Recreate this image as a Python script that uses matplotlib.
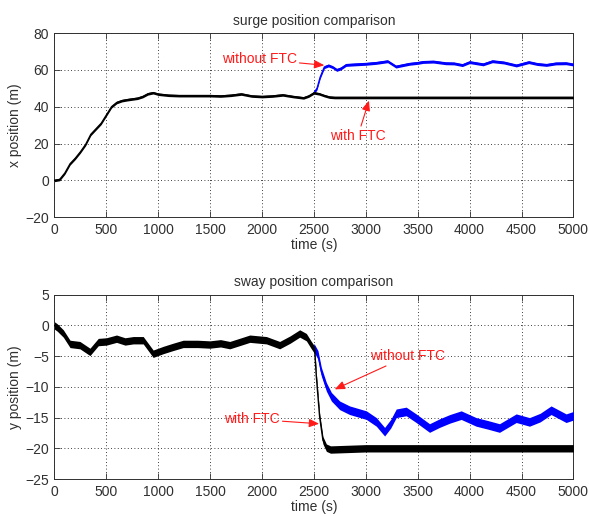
import matplotlib
matplotlib.use("Agg")
import matplotlib.pyplot as plt
import numpy as np

plt.rcParams['font.family'] = ['Liberation Sans', 'DejaVu Sans']

# ---- surge (x position) ----
surge_ftc_t = [0, 50, 100, 150, 200, 250, 300, 350, 400, 450, 500, 550, 600, 650, 700,
               800, 850, 900, 950, 1000, 1100, 1200, 1300, 1400, 1500, 1600, 1700, 1800,
               1900, 2000, 2100, 2200, 2300, 2400, 2450, 2500, 2550, 2600, 2650, 2700,
               3000, 3500, 4000, 4500, 5000]
surge_ftc = [0, 0.5, 4, 9, 12, 15.5, 19.5, 25, 28, 31, 35.5, 40, 42.3, 43.3, 43.8,
             44.6, 45.5, 47, 47.6, 46.8, 46.2, 46, 46, 46, 46, 45.8, 46.2, 46.9,
             45.8, 45.5, 45.8, 46.4, 45.5, 44.8, 45.8, 47.5, 47, 46, 45.2, 45,
             45, 45, 45, 45, 45]
surge_noftc_t = [2500, 2530, 2560, 2600, 2640, 2680, 2720, 2760, 2810, 2900, 3000, 3100,
                 3210, 3290, 3350, 3420, 3500, 3550, 3650, 3770, 3850, 3930, 4000, 4130,
                 4220, 4330, 4450, 4570, 4650, 4740, 4830, 4930, 5000]
surge_noftc = [47.5, 50, 56, 61.5, 62.4, 61.5, 60, 60.8, 62.7, 63, 63.3, 63.8,
               64.7, 61.8, 62.5, 63.3, 63.8, 64.3, 64.5, 63.6, 63.5, 62.6, 64.2, 63,
               64.7, 64, 62.4, 64.2, 63.2, 62.7, 63.5, 63.6, 62.9]
surge_ftc_noise = 0.7
surge_noftc_noise = 0.8

# ---- sway (y position) ----
sway_ftc_t = [0, 25, 85, 150, 245, 342, 422, 500, 598, 680, 759, 855, 951, 1047, 1140, 1240,
              1380, 1497, 1600, 1689, 1800, 1882, 2042, 2170, 2270, 2363, 2427, 2475, 2507,
              2523, 2555, 2587, 2620, 2660, 3000, 3500, 4000, 4500, 5000]
sway_ftc = [0, -0.3, -1.3, -3.0, -3.2, -4.3, -2.7, -2.6, -2.15, -2.6, -2.4, -2.4, -4.6, -4.0, -3.5,
            -3.0, -3.0, -3.1, -2.9, -3.2, -2.6, -2.15, -2.4, -3.2, -2.3, -1.3, -1.9, -3.2, -4.0,
            -8.3, -14.9, -18.7, -19.9, -20.2, -20, -20, -20, -20, -20]
sway_noftc_t = [2500, 2539, 2571, 2620, 2668, 2748, 2844, 3005, 3101, 3181, 3240, 3293, 3389,
                3485, 3614, 3710, 3810, 3919, 4063, 4180, 4288, 4449, 4577, 4680, 4785, 4930, 5000]
sway_noftc = [-3.6, -4.8, -7.5, -10, -11.6, -13, -13.8, -14.6, -15.7, -17.3, -16, -14.3, -14.0,
              -15.1, -16.7, -15.9, -15.2, -14.6, -15.7, -16.2, -16.7, -15.1, -15.7, -15, -13.8, -15.1, -14.7]
sway_ftc_noise = 0.6
sway_noftc_noise = 0.7

xticks = [0, 500, 1000, 1500, 2000, 2500, 3000, 3500, 4000, 4500, 5000]
surge_yticks = [-20, 0, 20, 40, 60, 80]
sway_yticks = [-25, -20, -15, -10, -5, 0, 5]

fig = plt.figure(figsize=(5.89, 5.16), dpi=100)
ax1 = fig.add_axes([0.0925, 0.579, 0.881, 0.357])
ax2 = fig.add_axes([0.0925, 0.0717, 0.881, 0.357])

RED = '#ff1a1a'
AXC = '#303030'

def band(ax, t, v, amp, color, lw=1.0):
    t = np.asarray(t, float)
    v = np.asarray(v, float)
    ax.fill_between(t, v - amp, v + amp, color=color, lw=0, zorder=3)
    ax.plot(t, v, color=color, lw=lw, zorder=3)

def style(ax, yticks, title, ylabel):
    ax.set_xlim(0, 5000)
    ax.set_ylim(yticks[0], yticks[-1])
    ax.set_xticks(xticks)
    ax.set_yticks(yticks)
    ax.grid(True, color='k', linestyle=(0, (1, 3)), linewidth=0.6)
    ax.tick_params(direction='in', top=True, right=True, length=4, width=0.6,
                   labelsize=10, pad=4, colors=AXC)
    for s in ax.spines.values():
        s.set_linewidth(0.7)
        s.set_color(AXC)
    ax.set_title(title, fontsize=10, pad=6, color=AXC)
    ax.set_xlabel('time (s)', fontsize=10, labelpad=1, color=AXC)
    ax.set_ylabel(ylabel, fontsize=10, labelpad=2, color=AXC)

band(ax1, surge_noftc_t, surge_noftc, surge_noftc_noise, '#0000ff')
band(ax1, surge_ftc_t, surge_ftc, surge_ftc_noise, 'k')
style(ax1, surge_yticks, 'surge position comparison', 'x position (m)')

band(ax2, sway_noftc_t, sway_noftc, sway_noftc_noise, '#0000ff')
band(ax2, sway_ftc_t, sway_ftc, sway_ftc_noise, 'k')
style(ax2, sway_yticks, 'sway position comparison', 'y position (m)')

arrow = dict(arrowstyle='-|>,head_length=0.6,head_width=0.25', color=RED, lw=0.8,
             shrinkA=0, shrinkB=0)
ax1.annotate('without FTC', xy=(2600, 62.5), xytext=(2334, 65.8), color=RED, fontsize=10,
             ha='right', va='center', arrowprops=arrow, zorder=5)
ax1.annotate('with FTC', xy=(3030, 43.3), xytext=(2924, 28.0), color=RED, fontsize=10,
             ha='center', va='top', arrowprops=arrow, zorder=5)
ax2.annotate('without FTC', xy=(2700, -10.4), xytext=(3040, -5.0), color=RED, fontsize=10,
             ha='left', va='center', arrowprops=arrow, zorder=5)
ax2.annotate('with FTC', xy=(2550, -16.0), xytext=(2170, -15.25), color=RED, fontsize=10,
             ha='right', va='center', arrowprops=arrow, zorder=5)

fig.savefig('out.png', dpi=100)
